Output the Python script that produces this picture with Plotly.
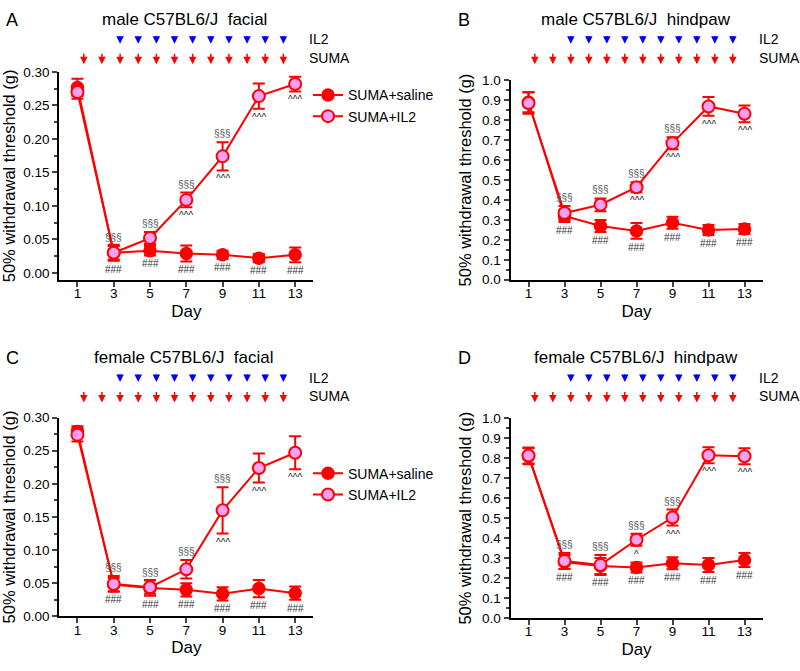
import plotly.graph_objects as go

FONT = "Liberation Sans, Arial, sans-serif"
RED = "#ff0000"
BLUE = "#0000ff"
PINK = "#f9a0f4"

days = [1, 3, 5, 7, 9, 11, 13]
suma_days = [1.35, 2.35, 3.35, 4.35, 5.35, 6.35, 7.35, 8.35, 9.35, 10.35, 11.35, 12.35]
il2_days = [3.35, 4.35, 5.35, 6.35, 7.35, 8.35, 9.35, 10.35, 11.35, 12.35]

# A: male facial
a_saline = [0.277, 0.030, 0.033, 0.029, 0.027, 0.022, 0.027]
a_saline_err = [0.013, 0.012, 0.007, 0.012, 0.006, 0.006, 0.011]
a_il2 = [0.270, 0.030, 0.052, 0.109, 0.174, 0.264, 0.282]
a_il2_err = [0.010, 0.010, 0.009, 0.011, 0.021, 0.019, 0.011]
a_caret = ["", "", "", "^^^", "^^^", "^^^", "^^^"]

# B: male hindpaw
b_saline = [0.890, 0.320, 0.270, 0.245, 0.286, 0.250, 0.255]
b_saline_err = [0.050, 0.030, 0.030, 0.040, 0.030, 0.025, 0.025]
b_il2 = [0.886, 0.335, 0.376, 0.464, 0.685, 0.869, 0.832]
b_il2_err = [0.054, 0.035, 0.032, 0.025, 0.030, 0.047, 0.042]
b_caret = ["", "", "", "^^^", "^^^", "^^^", "^^^"]

# C: female facial
c_saline = [0.279, 0.048, 0.043, 0.040, 0.034, 0.042, 0.035]
c_saline_err = [0.008, 0.010, 0.012, 0.010, 0.010, 0.013, 0.010]
c_il2 = [0.274, 0.049, 0.044, 0.071, 0.160, 0.224, 0.247]
c_il2_err = [0.010, 0.012, 0.010, 0.014, 0.035, 0.022, 0.025]
c_caret = ["", "", "", "", "^^^", "^^^", "^^^"]

# D: female hindpaw
d_saline = [0.810, 0.280, 0.260, 0.253, 0.274, 0.266, 0.291]
d_saline_err = [0.040, 0.035, 0.040, 0.025, 0.030, 0.035, 0.035]
d_il2 = [0.814, 0.286, 0.266, 0.392, 0.503, 0.815, 0.810]
d_il2_err = [0.040, 0.040, 0.050, 0.030, 0.040, 0.040, 0.040]
d_caret = ["", "", "", "^", "^^^", "^^^", "^^^"]

sect = ["", "§§§", "§§§", "§§§", "§§§", "", ""]
hashes = ["", "###", "###", "###", "###", "###", "###"]

W, H = 800, 671


def px_x(p):
    return p / W


def px_y(p):
    return 1 - p / H


panels = [
    dict(letter="A", title="male C57BL6/J\u00a0 facial", sal=a_saline, sal_err=a_saline_err,
         il2=a_il2, il2_err=a_il2_err, caret=a_caret,
         xdom=[59.3, 313.3], ydom=[279, 66.5], yrange=[-0.0103, 0.30], dtick=0.05, fmt=".2f",
         top=0, legend="legend"),
    dict(letter="B", title="male C57BL6/J\u00a0 hindpaw", sal=b_saline, sal_err=b_saline_err,
         il2=b_il2, il2_err=b_il2_err, caret=b_caret,
         xdom=[510.5, 762.5], ydom=[279, 75], yrange=[0, 1.0], dtick=0.1, fmt=".1f",
         top=0, legend=None),
    dict(letter="C", title="female C57BL6/J\u00a0 facial", sal=c_saline, sal_err=c_saline_err,
         il2=c_il2, il2_err=c_il2_err, caret=c_caret,
         xdom=[59.3, 313.3], ydom=[623.3, 420], yrange=[0, 0.30], dtick=0.05, fmt=".2f",
         top=346, legend="legend2"),
    dict(letter="D", title="female C57BL6/J\u00a0 hindpaw", sal=d_saline, sal_err=d_saline_err,
         il2=d_il2, il2_err=d_il2_err, caret=d_caret,
         xdom=[510.5, 762.5], ydom=[625, 420.7], yrange=[0, 1.0], dtick=0.1, fmt=".1f",
         top=346, legend=None),
]

fig = go.Figure()
annotations = []
layout = {}

for i, p in enumerate(panels):
    n = "" if i == 0 else str(i + 1)
    xr, yr = "x" + n, "y" + n
    show = p["legend"] is not None
    fig.add_trace(go.Scatter(
        x=days, y=p["sal"], name="SUMA+saline", xaxis=xr, yaxis=yr,
        mode="lines+markers", line=dict(color=RED, width=2),
        marker=dict(color=RED, size=12, line=dict(color=RED, width=1.5)),
        error_y=dict(type="data", array=p["sal_err"], color=RED, thickness=2, width=6),
        showlegend=show, legend=p["legend"] or "legend", cliponaxis=False,
    ))
    fig.add_trace(go.Scatter(
        x=days, y=p["il2"], name="SUMA+IL2", xaxis=xr, yaxis=yr,
        mode="lines+markers", line=dict(color=RED, width=2),
        marker=dict(color=PINK, size=12, line=dict(color=RED, width=2)),
        error_y=dict(type="data", array=p["il2_err"], color=RED, thickness=2, width=6),
        showlegend=show, legend=p["legend"] or "legend", cliponaxis=False,
    ))

    layout["xaxis" + n] = dict(
        domain=[px_x(p["xdom"][0]), px_x(p["xdom"][1])], anchor=yr,
        range=[0, 14], tickvals=days, ticks="outside", ticklen=5, tickwidth=1.5,
        ticklabelstandoff=-5,
        showline=True, linewidth=2, linecolor="black", showgrid=False, zeroline=False,
        tickfont=dict(size=13.5, color="black"),
        title=dict(text="Day", font=dict(size=17, color="black"), standoff=5),
    )
    layout["yaxis" + n] = dict(
        domain=[px_y(p["ydom"][0]), px_y(p["ydom"][1])], anchor=xr,
        range=p["yrange"], dtick=p["dtick"], tick0=0, tickformat=p["fmt"],
        ticks="outside", ticklen=5, tickwidth=1.5,
        minor=dict(ticks="outside", ticklen=3, tickwidth=1.5, dtick=p["dtick"] / 2, tick0=0),
        showline=True, linewidth=2, linecolor="black", showgrid=False, zeroline=False,
        tickfont=dict(size=13.5, color="black"),
        title=dict(text="50% withdrawal threshold (g)", font=dict(size=16.5, color="black"), standoff=6),
    )

    # significance marks
    for d, s, m, e, c, sv, se, h in zip(days, sect, p["il2"], p["il2_err"], p["caret"],
                                       p["sal"], p["sal_err"], hashes):
        if s:
            annotations.append(dict(x=d, y=m + e, xref=xr, yref=yr, text=s, showarrow=False,
                                    yanchor="bottom", yshift=1, font=dict(size=10, color="#555")))
        if c:
            annotations.append(dict(x=d, y=m - e, xref=xr, yref=yr, text=c, showarrow=False,
                                    yanchor="top", yshift=-1, font=dict(size=10, color="#222")))
        if h:
            annotations.append(dict(x=d, y=sv - se, xref=xr, yref=yr, text=h, showarrow=False,
                                    yanchor="top", yshift=-1, font=dict(size=10, color="#333")))

    top = p["top"]
    # panel letter and title
    annotations.append(dict(x=px_x(p["xdom"][0] - 55), y=px_y(top + 13), xref="paper", yref="paper",
                            text=p["letter"], showarrow=False, xanchor="left", yanchor="middle",
                            font=dict(size=18, color="black")))
    annotations.append(dict(x=px_x(p["xdom"][0] + 125), y=px_y(top + 13), xref="paper", yref="paper",
                            text=p["title"], showarrow=False, xanchor="center", yanchor="middle",
                            font=dict(size=17, color="black")))
    # treatment arrows
    for d in il2_days:
        annotations.append(dict(x=d, y=px_y(top + 37.5), xref=xr, yref="paper", text="",
                                showarrow=True, ax=0, ay=-9, arrowhead=2, arrowsize=1,
                                arrowwidth=1.5, arrowcolor=BLUE, standoff=0))
    for d in suma_days:
        annotations.append(dict(x=d, y=px_y(top + 58.5), xref=xr, yref="paper", text="",
                                showarrow=True, ax=0, ay=-12, arrowhead=2, arrowsize=1,
                                arrowwidth=1.5, arrowcolor=RED, standoff=0))
    annotations.append(dict(x=px_x(p["xdom"][1] - 6), y=px_y(top + 33), xref="paper", yref="paper",
                            text="IL2", showarrow=False, xanchor="left", yanchor="middle",
                            font=dict(size=14, color="black")))
    annotations.append(dict(x=px_x(p["xdom"][1] - 6), y=px_y(top + 52), xref="paper", yref="paper",
                            text="SUMA", showarrow=False, xanchor="left", yanchor="middle",
                            font=dict(size=14, color="black")))

legend_style = dict(font=dict(size=14, color="black"), bgcolor="rgba(0,0,0,0)",
                    xanchor="left", yanchor="top", tracegroupgap=0)
fig.update_layout(
    width=W, height=H,
    margin=dict(l=0, r=0, t=0, b=0),
    paper_bgcolor="white", plot_bgcolor="white",
    font=dict(family=FONT, color="black"),
    annotations=annotations,
    legend=dict(x=px_x(308), y=px_y(74), **legend_style),
    legend2=dict(x=px_x(308), y=px_y(461), **legend_style),
    **layout,
)

# drop the default page margin so the figure sits at the window's corner
fig.write_html("out.html", config={"displayModeBar": False},
               post_script="document.body.style.margin='0';")
